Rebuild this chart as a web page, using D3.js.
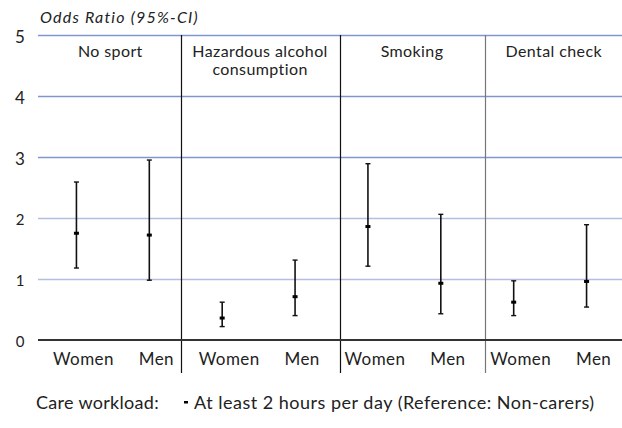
<!DOCTYPE html>
<html>
<head>
<meta charset="utf-8">
<script src="https://cdn.jsdelivr.net/npm/d3@7"></script>
<style>
  body { margin: 0; background: #fff; }
  svg { display: block; font-family: Lato, "Open Sans", sans-serif; }
</style>
</head>
<body>
<div id="chartDiv"></div>
<script>
;(function() {

	// groups and sexes
	var groups = ["No sport", "Hazardous alcohol\nconsumption", "Smoking", "Dental check"];
	var sexes = ["Women", "Men"];

	// odds ratio estimates and 95% CI, per group, women then men
	var orValues = [1.75, 1.72, 0.36, 0.71, 1.86, 0.93, 0.62, 0.96];
	var ciLower  = [1.18, 0.98, 0.22, 0.40, 1.21, 0.43, 0.40, 0.54];
	var ciUpper  = [2.59, 2.95, 0.62, 1.31, 2.89, 2.06, 0.97, 1.89];

	var yTicks = [0, 1, 2, 3, 4, 5];
	// group separators, in slot units
	var dividers = [1.93, 4.11, 6.10];

	var width = 622;
	var height = 428;
	var margin = { top: 35, right: -1, bottom: 88, left: 40 };

	var chartWidth = width - margin.left - margin.right;
	var chartHeight = height - margin.top - margin.bottom;

	var svg = d3.select("#chartDiv").append("svg")
		.attr("width", width)
		.attr("height", height);

	var xScale = d3.scaleLinear()
		.domain([0, 8])
		.range([margin.left, margin.left + chartWidth]);

	var yScale = d3.scaleLinear()
		.domain([0, 5])
		.range([margin.top + chartHeight, margin.top]);

	// grid lines
	svg.append("g").selectAll("line")
		.data(yTicks.filter(function(d) { return d > 0; }))
		.enter().append("line")
			.attr("x1", margin.left - 2)
			.attr("x2", width)
			.attr("y1", function(d) { return Math.round(yScale(d)) + 0.5; })
			.attr("y2", function(d) { return Math.round(yScale(d)) + 0.5; })
			.attr("stroke", function(d) { return d >= 3 ? "#7f97cc" : "#b4bfe0"; })
			.attr("stroke-width", 1.4);

	// y axis labels
	svg.append("g").selectAll("text")
		.data(yTicks)
		.enter().append("text")
			.attr("x", 20)
			.attr("y", function(d) { return yScale(d) + 1; })
			.attr("text-anchor", "middle")
			.attr("dominant-baseline", "central")
			.style("font-size", function(d) { return d >= 3 ? "17px" : "15px"; })
			.attr("fill", "#222")
			.text(function(d) { return d; });

	// axis title
	svg.append("text")
		.attr("x", 40)
		.attr("y", 23)
		.style("font-size", "16px")
		.style("font-style", "italic")
		.style("letter-spacing", "1.2px")
		.attr("fill", "#222")
		.text("Odds Ratio (95%-CI)");

	// dividers
	svg.append("g").selectAll("line")
		.data(dividers)
		.enter().append("line")
			.attr("x1", function(d) { return Math.round(xScale(d)) + 0.5; })
			.attr("x2", function(d) { return Math.round(xScale(d)) + 0.5; })
			.attr("y1", yScale(5))
			.attr("y2", yScale(0) + 33)
			.attr("stroke", function(d, i) { return i == 2 ? "#777" : "#111"; })
			.attr("stroke-width", 1.2);

	// baseline
	svg.append("line")
		.attr("x1", margin.left - 2)
		.attr("x2", width)
		.attr("y1", yScale(0))
		.attr("y2", yScale(0))
		.attr("stroke", "#333")
		.attr("stroke-width", 2.2);

	// group headers, centred between dividers
	var edges = [0].concat(dividers, [8]);
	groups.forEach(function(g, i) {
		var cx = (xScale(edges[i]) + xScale(edges[i + 1])) / 2;
		var t = svg.append("text")
			.attr("x", cx)
			.attr("y", yScale(5) + 22)
			.attr("text-anchor", "middle")
			.style("font-size", "16px")
			.style("letter-spacing", "0.4px")
			.attr("fill", "#222");
		g.split("\n").forEach(function(l, j) {
			t.append("tspan")
				.attr("x", cx)
				.attr("dy", j == 0 ? 0 : 18)
				.text(l);
		});
	});

	// x labels
	var slots = d3.range(8);
	svg.append("g").selectAll("text")
		.data(slots)
		.enter().append("text")
			.attr("x", function(d) { return xScale(d + 0.5) + 7; })
			.attr("y", yScale(0) + 25)
			.attr("text-anchor", "middle")
			.style("font-size", "17px")
			.style("letter-spacing", "0.4px")
			.attr("fill", "#222")
			.text(function(d) { return sexes[d % 2]; });

	// error bars
	var bars = svg.append("g").selectAll("g")
		.data(slots)
		.enter().append("g");

	bars.append("line")
		.attr("x1", function(d) { return xScale(d + 0.5); })
		.attr("x2", function(d) { return xScale(d + 0.5); })
		.attr("y1", function(d) { return yScale(ciLower[d]); })
		.attr("y2", function(d) { return yScale(ciUpper[d]); })
		.attr("stroke", "#111")
		.attr("stroke-width", 1.6);

	[ciLower, ciUpper].forEach(function(arr) {
		bars.append("line")
			.attr("x1", function(d) { return xScale(d + 0.5) - 2.5; })
			.attr("x2", function(d) { return xScale(d + 0.5) + 2.5; })
			.attr("y1", function(d) { return yScale(arr[d]); })
			.attr("y2", function(d) { return yScale(arr[d]); })
			.attr("stroke", "#111")
			.attr("stroke-width", 1.4);
	});

	bars.append("rect")
		.attr("x", function(d) { return xScale(d + 0.5) - 2.5; })
		.attr("y", function(d) { return yScale(orValues[d]) - 1.5; })
		.attr("width", 5)
		.attr("height", 3)
		.attr("fill", "#000");

	// legend
	svg.append("text")
		.attr("x", 36)
		.attr("y", 409)
		.style("font-size", "18px")
		.style("letter-spacing", "0.3px")
		.attr("fill", "#222")
		.text("Care workload:");

	svg.append("rect")
		.attr("x", 184)
		.attr("y", 401)
		.attr("width", 4)
		.attr("height", 2.5)
		.attr("fill", "#000");

	svg.append("text")
		.attr("x", 194)
		.attr("y", 409)
		.style("font-size", "18px")
		.style("letter-spacing", "0.5px")
		.attr("fill", "#222")
		.text("At least 2 hours per day (Reference: Non-carers)");

})();
</script>
</body>
</html>
